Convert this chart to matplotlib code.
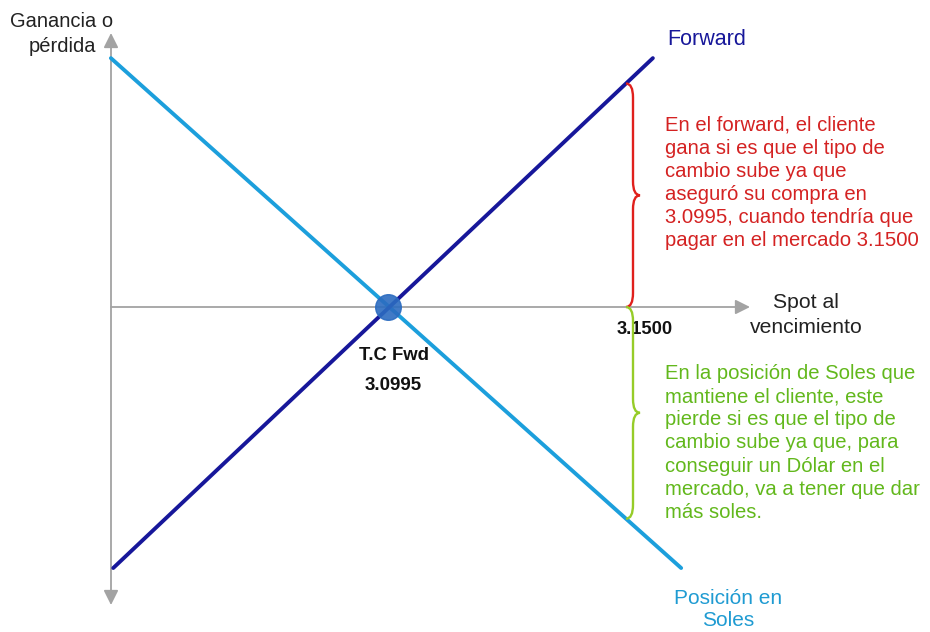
import numpy as np
import matplotlib.pyplot as plt
from matplotlib.path import Path
from matplotlib.patches import PathPatch

plt.rcParams['font.family'] = ['Liberation Sans', 'DejaVu Sans']

# Datos (esquema de ganancia/pérdida)
fwd_rate = 3.0995
spot_mkt = 3.1500
forward_spot = [3.0412, 3.1557]
forward_pnl = [-0.0602, 0.0574]
soles_spot = [3.0407, 3.1617]
soles_pnl = [0.0574, -0.0602]

text_red = ("En el forward, el cliente\ngana si es que el tipo de\ncambio sube ya que\n"
            "aseguró su compra en\n3.0995, cuando tendría que\npagar en el mercado 3.1500")
text_green = ("En la posición de Soles que\nmantiene el cliente, este\npierde si es que el tipo de\n"
              "cambio sube ya que, para\nconseguir un Dólar en el\nmercado, va a tener que dar\nmás soles.")

fig = plt.figure(figsize=(9.3, 6.32), dpi=100)
ax = fig.add_axes([0, 0, 1, 1])
kx = 0.0505 / 238   # spot per pixel
ky = kx / 0.92      # pnl per pixel
ax.set_xlim(fwd_rate - 388 * kx, fwd_rate + 542 * kx)
ax.set_ylim(-325 * ky, 307 * ky)
ax.axis('off')

x_axis = fwd_rate - 277 * kx
grey = '#a3a3a3'
# eje vertical
ax.annotate('', xy=(x_axis, 274 * ky), xytext=(x_axis, -298 * ky),
            arrowprops=dict(arrowstyle='<|-|>', color=grey, lw=1.3, mutation_scale=22,
                            shrinkA=0, shrinkB=0))
# eje horizontal
ax.annotate('', xy=(fwd_rate + 362 * kx, 0), xytext=(x_axis, 0),
            arrowprops=dict(arrowstyle='-|>', color=grey, lw=1.3, mutation_scale=22,
                            shrinkA=0, shrinkB=0))

ax.plot(soles_spot, soles_pnl, color='#1c9fdc', lw=2.8, solid_capstyle='round', zorder=3)
ax.plot(forward_spot, forward_pnl, color='#17179a', lw=2.8, solid_capstyle='round', zorder=4)
ax.scatter([fwd_rate], [0], s=340, color='#2c6cc0', alpha=0.9, zorder=5)


def brace(x0, y_a, y_b, color):
    w = 14 * kx
    r = 14 * ky * np.sign(y_b - y_a)
    ym = (y_a + y_b) / 2
    xm = x0 + w / 2
    verts = [(x0, y_a), (xm, y_a), (xm, y_a + r),
             (xm, ym - r), (xm, ym), (x0 + w, ym),
             (xm, ym), (xm, ym + r),
             (xm, y_b - r), (xm, y_b), (x0, y_b)]
    codes = [Path.MOVETO, Path.CURVE3, Path.CURVE3,
             Path.LINETO, Path.CURVE3, Path.CURVE3,
             Path.CURVE3, Path.CURVE3,
             Path.LINETO, Path.CURVE3, Path.CURVE3]
    ax.add_patch(PathPatch(Path(verts, codes), fill=False, edgecolor=color, lw=1.7, zorder=6))


def line_at(x, xs, ys):
    return ys[0] + (ys[1] - ys[0]) * (x - xs[0]) / (xs[1] - xs[0])


brace(spot_mkt, 0, line_at(spot_mkt, forward_spot, forward_pnl), '#e0201c')
brace(spot_mkt, 0, line_at(spot_mkt, soles_spot, soles_pnl), '#96cc28')

ax.text(x_axis - 49 * kx, 273 * ky, 'Ganancia o\npérdida', ha='center', va='center',
        fontsize=14.5, color='#222222', linespacing=1.38)
ax.text(fwd_rate + 319 * kx, 267 * ky, 'Forward', ha='center', va='center',
        fontsize=15.5, color='#17179a')
ax.text(fwd_rate + 6 * kx, -49 * ky, 'T.C Fwd', ha='center', va='center',
        fontsize=13.3, fontweight='bold', color='#111111')
ax.text(fwd_rate + 5 * kx, -79 * ky, '3.0995', ha='center', va='center',
        fontsize=13.5, fontweight='bold', color='#111111')
ax.text(spot_mkt + 19 * kx, -23 * ky, '3.1500', ha='center', va='center',
        fontsize=13.2, fontweight='bold', color='#111111')
ax.text(fwd_rate + 418 * kx, -8 * ky, 'Spot al\nvencimiento', ha='center', va='center',
        fontsize=15.2, color='#222222', linespacing=1.37)
ax.text(spot_mkt + 39 * kx, 124 * ky, text_red, ha='left', va='center',
        fontsize=14.6, color='#d42222', linespacing=1.28)
ax.text(spot_mkt + 39 * kx, -136 * ky, text_green, ha='left', va='center',
        fontsize=14.6, color='#62b81c', linespacing=1.28)
ax.text(fwd_rate + 340 * kx, -302 * ky, 'Posición en\nSoles', ha='center', va='center',
        fontsize=15, color='#1f9bd2', linespacing=1.2)

fig.savefig('out.png', dpi=100)
